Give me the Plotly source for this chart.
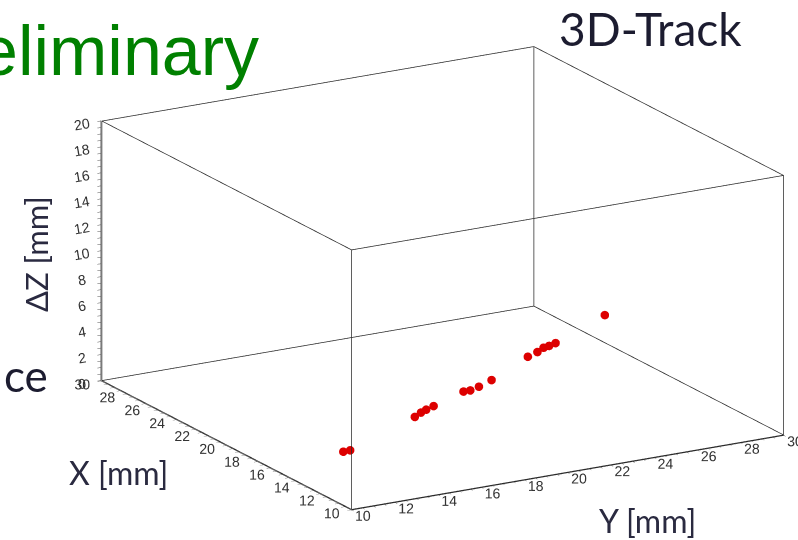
import plotly.graph_objects as go

# ---- data ----
x_mm = [16.9, 16.7, 17.4, 17.6, 17.7, 17.8, 18.0, 17.8, 17.8, 18.0,
        18.9, 19.0, 19.2, 19.1, 19.1, 20.0]
y_mm = [13.6, 13.8, 17.2, 17.6, 17.9, 18.3, 19.8, 20.0, 20.4, 21.1,
        23.3, 23.8, 24.2, 24.4, 24.7, 27.5]
dz_mm = [0.0, 0.15, 1.40, 1.52, 1.61, 1.72, 2.31, 2.44, 2.61, 2.82,
         3.54, 3.71, 3.83, 3.96, 4.09, 5.0]

x_range = [10, 30]
y_range = [10, 30]
z_range = [0, 20]
major_ticks_xy = [10, 12, 14, 16, 18, 20, 22, 24, 26, 28, 30]
major_ticks_z = [0, 2, 4, 6, 8, 10, 12, 14, 16, 18, 20]


def tick_setup(lo, hi, majors):
    vals, texts = [], []
    v = lo
    while v <= hi + 1e-9:
        vals.append(round(v, 2))
        texts.append(str(int(round(v))) if any(abs(v - m) < 1e-6 for m in majors) else "")
        v += 0.5
    return vals, texts


# box edges built from the axis ranges
x0, x1 = x_range
y0, y1 = y_range
z0, z1 = z_range
bx, by, bz = [], [], []
edges = [
    ((x0, y0, z0), (x1, y0, z0)), ((x0, y1, z0), (x1, y1, z0)),
    ((x0, y0, z1), (x1, y0, z1)), ((x0, y1, z1), (x1, y1, z1)),
    ((x0, y0, z0), (x0, y1, z0)), ((x1, y0, z0), (x1, y1, z0)),
    ((x0, y0, z1), (x0, y1, z1)), ((x1, y0, z1), (x1, y1, z1)),
    ((x0, y0, z0), (x0, y0, z1)), ((x1, y0, z0), (x1, y0, z1)),
    ((x0, y1, z0), (x0, y1, z1)), ((x1, y1, z0), (x1, y1, z1)),
]
for a, b in edges:
    bx += [a[0], b[0], None]
    by += [a[1], b[1], None]
    bz += [a[2], b[2], None]

fig = go.Figure()
fig.add_trace(go.Scatter3d(x=bx, y=by, z=bz, mode="lines",
                           line=dict(color="#2a2a2a", width=1.5),
                           hoverinfo="skip", showlegend=False))
fig.add_trace(go.Scatter3d(x=x_mm, y=y_mm, z=dz_mm, mode="markers",
                           marker=dict(size=5, color="#dd0000", line=dict(width=0)),
                           hoverinfo="skip", showlegend=False))

xt_v, xt_t = tick_setup(x0, x1, major_ticks_xy)
yt_v, yt_t = tick_setup(y0, y1, major_ticks_xy)
zt_v, zt_t = tick_setup(z0, z1, major_ticks_z)

axis_common = dict(showgrid=False, zeroline=False, showbackground=False,
                   showline=True, linecolor="#2a2a2a", linewidth=1,
                   ticks="outside", ticklen=4, tickcolor="#555555",
                   tickfont=dict(family="Liberation Sans, Arial", size=13, color="#333333"),
                   showspikes=False, title=dict(text=""))

pad = 0.03  # keep the back faces just behind the drawn box edges
s = 1.91
kx = 0.167
view_dir = (0.8263, -0.4777, 0.2983)
cen = (-kx * 0.5005, -kx * 0.8657, 0.0)
fig.update_layout(
    width=798, height=540,
    margin=dict(l=0, r=0, t=0, b=0),
    paper_bgcolor="white",
    showlegend=False,
    scene=dict(
        domain=dict(x=[0.0, 1.0], y=[0.0, 0.97]),
        xaxis=dict(range=[x1 + pad, x0 - pad], tickmode="array", tickvals=xt_v, ticktext=xt_t,
                   tickangle=0, **axis_common),
        yaxis=dict(range=[y0 - pad, y1 + pad], tickmode="array", tickvals=yt_v, ticktext=yt_t,
                   tickangle=0, **axis_common),
        zaxis=dict(range=[z0 - pad, z1 + pad], tickmode="array", tickvals=zt_v, ticktext=zt_t,
                   **axis_common),
        aspectmode="manual",
        aspectratio=dict(x=1 * s, y=1 * s, z=0.545 * s),
        camera=dict(eye=dict(x=cen[0] + 2 * view_dir[0], y=cen[1] + 2 * view_dir[1],
                             z=cen[2] + 2 * view_dir[2]),
                    up=dict(x=0, y=0, z=1),
                    center=dict(x=cen[0], y=cen[1], z=cen[2]),
                    projection=dict(type="orthographic")),
        dragmode=False,
    ),
    annotations=[
        dict(text="Preliminary", xref="paper", yref="paper", x=261 / 798, y=1 - 51 / 540,
             xanchor="right", yanchor="middle", showarrow=False,
             font=dict(family="Liberation Sans, Arial", size=70, color="#008000")),
        dict(text="3D-Track", xref="paper", yref="paper", x=650 / 798, y=1 - 29 / 540,
             xanchor="center", yanchor="middle", showarrow=False,
             font=dict(family="Lato", size=46, color="#1c1c30")),
        dict(text="ce", xref="paper", yref="paper", x=2 / 798, y=1 - 375 / 540,
             xanchor="left", yanchor="middle", showarrow=False,
             font=dict(family="Lato", size=44, color="#1c1c30")),
        dict(text="ΔZ [mm]", xref="paper", yref="paper", x=36 / 798, y=1 - 254 / 540,
             xanchor="center", yanchor="middle", showarrow=False, textangle=-90,
             font=dict(family="Lato", size=31, color="#2a2a40")),
        dict(text="X [mm]", xref="paper", yref="paper", x=118 / 798, y=1 - 472 / 540,
             xanchor="center", yanchor="middle", showarrow=False,
             font=dict(family="Lato", size=32, color="#2a2a40")),
        dict(text="Y [mm]", xref="paper", yref="paper", x=647 / 798, y=1 - 520 / 540,
             xanchor="center", yanchor="middle", showarrow=False,
             font=dict(family="Lato", size=32, color="#2a2a40")),
    ],
)

fig.write_html("out.html", post_script="document.body.style.margin='0';",
               config={"displayModeBar": False})
